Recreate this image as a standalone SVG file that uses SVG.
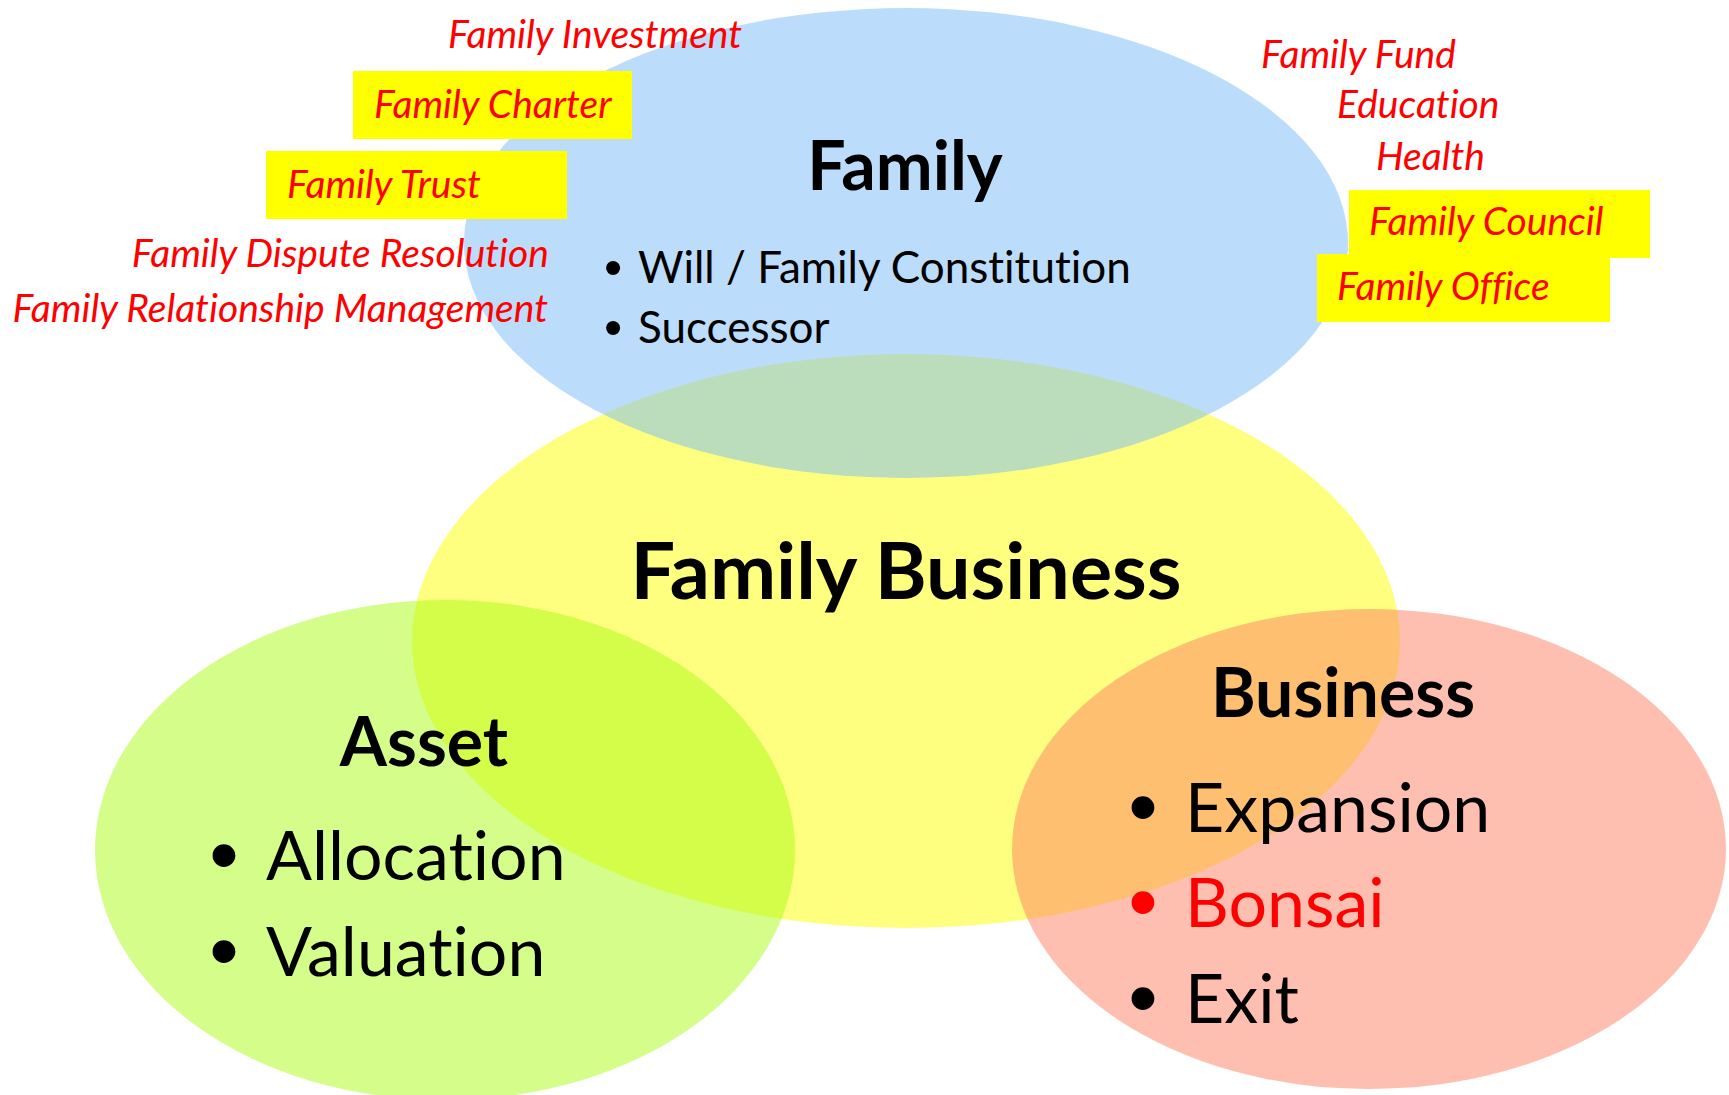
<svg xmlns="http://www.w3.org/2000/svg" width="1729" height="1095" viewBox="0 0 1729 1095">
<style>
text{font-variant-ligatures:none}
.title{font-family:Lato,"Liberation Sans",sans-serif;font-weight:bold;fill:#000;text-anchor:middle}
.item{font-family:Lato,"Liberation Sans",sans-serif;fill:#000}
.bul{font-family:"Liberation Sans",sans-serif;text-anchor:middle}
.note{font-family:Lato,"Liberation Sans",sans-serif;font-style:italic;fill:#FF0000;font-size:39px}
.hl{fill:#FFFF00}
</style>
<rect width="1729" height="1095" fill="#FFFFFF"/>
<g id="family-business">
<ellipse cx="906" cy="641" rx="494" ry="287" fill="#FFFF00" fill-opacity="0.5"/>
</g>
<g id="family">
<ellipse cx="906" cy="243" rx="442" ry="235" fill="#77BCF7" fill-opacity="0.5"/>
</g>
<g id="asset">
<ellipse cx="445" cy="850" rx="350" ry="250" fill="#A9FB15" fill-opacity="0.5"/>
</g>
<g id="business">
<ellipse cx="1369" cy="849" rx="357" ry="240" fill="#FF7F61" fill-opacity="0.5"/>
</g>
<g id="family-text">
<text class="title" x="905" y="190" font-size="68">Family</text>
<text class="bul" x="613" y="285" font-size="52">•</text>
<text class="item" x="638" y="283" font-size="44">Will / Family Constitution</text>
<text class="bul" x="613" y="345" font-size="52">•</text>
<text class="item" x="638" y="343" font-size="44">Successor</text>
</g>
<g id="family-business-text">
<text class="title" x="906" y="599" font-size="79">Family Business</text>
</g>
<g id="asset-text">
<text class="title" x="424" y="766" font-size="68">Asset</text>
<text class="bul" x="224" y="883" font-size="84">•</text>
<text class="item" x="266" y="880" font-size="68">Allocation</text>
<text class="bul" x="224" y="979" font-size="84">•</text>
<text class="item" x="266" y="976" font-size="68">Valuation</text>
</g>
<g id="business-text">
<text class="title" x="1343" y="717" font-size="68">Business</text>
<text class="bul" x="1143" y="835" font-size="84">•</text>
<text class="item" x="1185" y="832" font-size="68">Expansion</text>
<text class="bul" x="1143" y="930" font-size="84" fill="#FF0000">•</text>
<text class="item" x="1185" y="927" font-size="68" style="fill:#FF0000">Bonsai</text>
<text class="bul" x="1143" y="1026" font-size="84">•</text>
<text class="item" x="1185" y="1023" font-size="68">Exit</text>
</g>
<g id="left-notes">
<text class="note" x="448" y="48">Family Investment</text>
<g id="family-charter">
<rect class="hl" x="353" y="71" width="279" height="68"/>
<text class="note" x="374" y="118">Family Charter</text>
</g>
<g id="family-trust">
<rect class="hl" x="266" y="151" width="301" height="68"/>
<text class="note" x="287" y="198">Family Trust</text>
</g>
<text class="note" x="549" y="267" text-anchor="end">Family Dispute Resolution</text>
<text class="note" x="548" y="322" text-anchor="end">Family Relationship Management</text>
</g>
<g id="right-notes">
<text class="note" x="1261" y="68">Family Fund</text>
<text class="note" x="1337" y="118">Education</text>
<text class="note" x="1376" y="170">Health</text>
<g id="family-office">
<rect class="hl" x="1317" y="254" width="293" height="68"/>
<text class="note" x="1337" y="300">Family Office</text>
</g>
<g id="family-council">
<rect class="hl" x="1349" y="190" width="301" height="68"/>
<text class="note" x="1369" y="235">Family Council</text>
</g>
</g>
</svg>
